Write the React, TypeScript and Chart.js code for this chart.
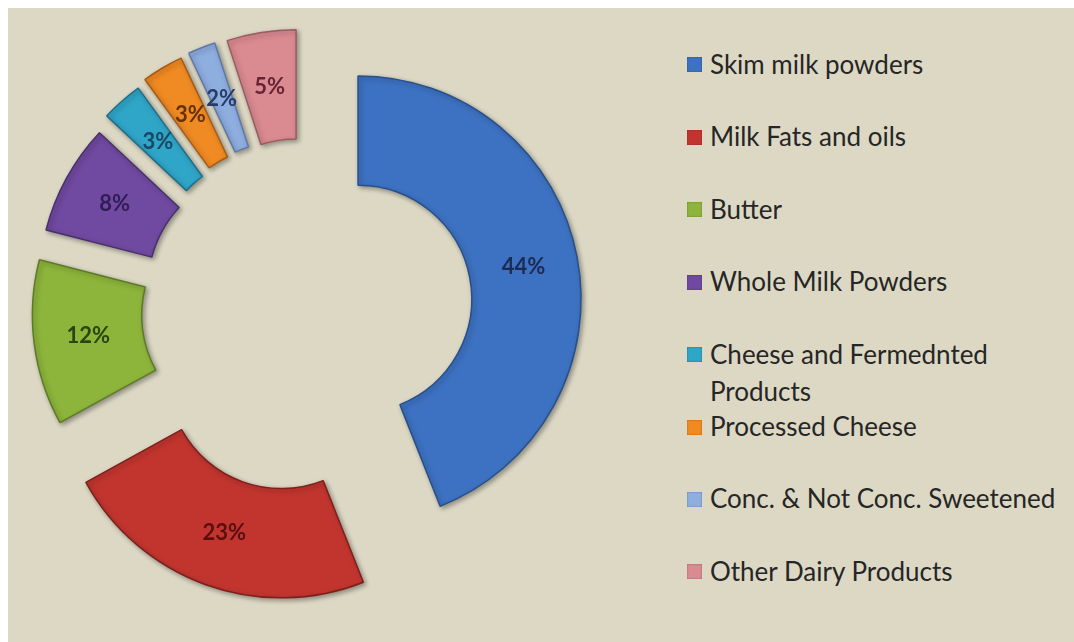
import React, { useEffect, useRef } from 'react';
import { Chart, registerables } from 'chart.js';

Chart.register(...registerables);

// ---- data ----
const categories = [
  'Skim milk powders',
  'Milk Fats and oils',
  'Butter',
  'Whole Milk Powders',
  'Cheese and Fermednted Products',
  'Processed Cheese',
  'Conc. & Not Conc. Sweetened',
  'Other Dairy Products',
];
const shares = [44, 23, 12, 8, 3, 3, 2, 5];
const valueLabels = ['44%', '23%', '12%', '8%', '3%', '3%', '2%', '5%'];

// ---- styles ----
const sliceColors = ['#3d72c2', '#c2352f', '#8db53b', '#7049a0', '#2fa5c8', '#f08a22', '#8eaee0', '#da8a91'];
const sliceBorders = ['#274f8a', '#7e1f1c', '#5c7a24', '#47306c', '#1e6f88', '#a85a12', '#5d78a8', '#9a5a60'];
const labelColors = ['#1b2b55', '#5a0f0f', '#2a4510', '#311d56', '#1a4763', '#663008', '#283c6c', '#662433'];
const explodeDistances = [54, 70, 50, 49, 54, 57, 58, 57];

const PANEL_BG = '#dcd8c4';

const explodePlugin = {
  id: 'explodeSlices',
  beforeDatasetDraw(chart: any, args: any) {
    const ctx = chart.ctx;
    const meta = args.meta;
    meta.data.forEach((arc: any, i: number) => {
      const mid = (arc.startAngle + arc.endAngle) / 2;
      const d = explodeDistances[i] || 0;
      ctx.save();
      ctx.translate(Math.cos(mid) * d, Math.sin(mid) * d);
      ctx.shadowColor = 'rgba(0,0,0,0.35)';
      ctx.shadowBlur = 5;
      ctx.shadowOffsetX = 2;
      ctx.shadowOffsetY = 2;
      arc.draw(ctx);
      ctx.restore();
    });
    return false;
  },
  afterDatasetsDraw(chart: any) {
    const ctx = chart.ctx;
    const meta = chart.getDatasetMeta(0);
    ctx.save();
    ctx.font = 'bold 22px Lato';
    ctx.textAlign = 'center';
    ctx.textBaseline = 'middle';
    meta.data.forEach((arc: any, i: number) => {
      const mid = (arc.startAngle + arc.endAngle) / 2;
      const rr = (arc.innerRadius + arc.outerRadius) / 2 + (explodeDistances[i] || 0);
      const x = arc.x + Math.cos(mid) * rr;
      const y = arc.y + Math.sin(mid) * rr;
      ctx.fillStyle = labelColors[i];
      ctx.fillText(valueLabels[i], x, y);
    });
    ctx.restore();
  },
};

export default function App() {
  const canvasRef = useRef<HTMLCanvasElement | null>(null);

  useEffect(() => {
    if (!canvasRef.current) return;
    const chart = new Chart(canvasRef.current, {
      type: 'doughnut',
      data: {
        labels: categories,
        datasets: [
          {
            data: shares,
            backgroundColor: sliceColors,
            borderColor: sliceBorders,
            borderWidth: 1.5,
          },
        ],
      },
      options: {
        responsive: false,
        animation: false,
        rotation: 0,
        radius: 223,
        cutout: '51%',
        layout: { padding: 0 },
        plugins: {
          legend: { display: false },
          tooltip: { enabled: false },
        },
      } as any,
      plugins: [explodePlugin as any],
    });
    return () => chart.destroy();
  }, []);

  const legendFirstCenter = 57;
  const legendStep = 72.43;

  return (
    <div
      style={{
        position: 'fixed',
        left: 8,
        top: 8,
        right: 0,
        bottom: 0,
        background: PANEL_BG,
        overflow: 'hidden',
      }}
    >
      <canvas
        ref={canvasRef}
        width={594}
        height={602}
        style={{ position: 'absolute', left: 0, top: 0, width: 594, height: 602 }}
      />
      {categories.map((name, i) => (
        <div
          key={name}
          style={{
            position: 'absolute',
            left: 679,
            top: legendFirstCenter + i * legendStep - 19.2,
            display: 'flex',
            alignItems: 'flex-start',
          }}
        >
          <div
            style={{
              width: 15,
              height: 15,
              marginTop: 11.7,
              marginRight: 8,
              background: sliceColors[i],
              boxShadow: 'inset 0 0 2px rgba(0,0,0,0.35)',
              flex: '0 0 auto',
            }}
          />
          <div
            style={{
              width: 362,
              fontFamily: 'Lato, sans-serif',
              fontSize: 26,
              lineHeight: '37px',
              color: '#262626',
            }}
          >
            {name}
          </div>
        </div>
      ))}
    </div>
  );
}
